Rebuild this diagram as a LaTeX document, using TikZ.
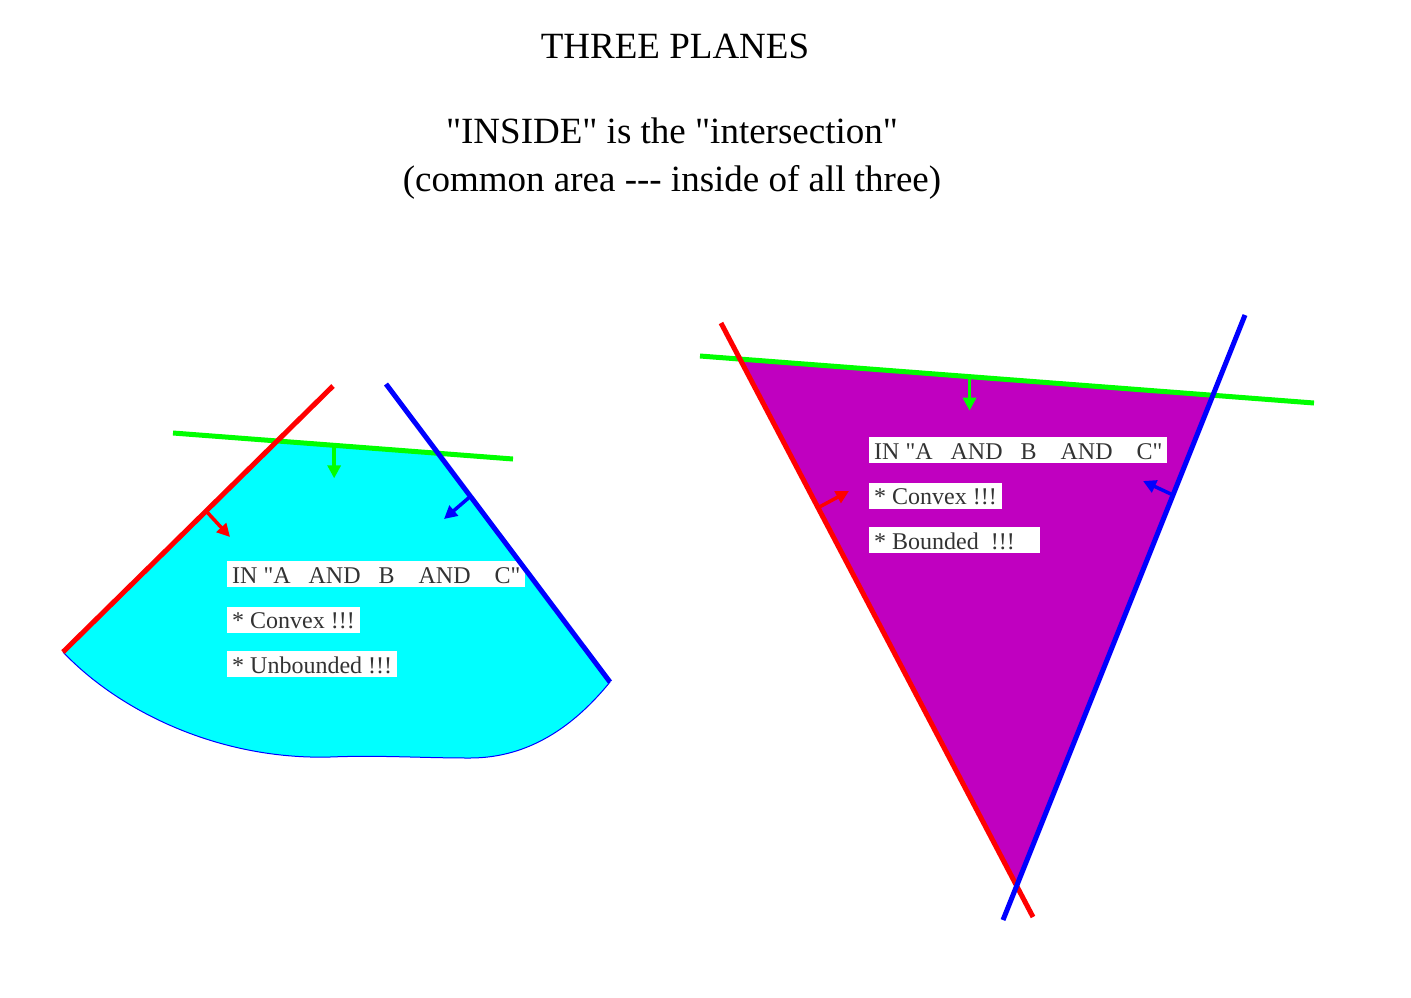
\documentclass[tikz,border=0pt]{standalone}
\usepackage{fontspec}
\newfontfamily\planefont{Liberation Serif}
\usetikzlibrary{arrows.meta,positioning,calc}
\definecolor{insidefill}{RGB}{192,0,192}
\definecolor{outsidefill}{RGB}{0,255,255}
\definecolor{notetext}{RGB}{51,51,51}
\tikzset{
	plane/.style={line width=5pt},
	normal/.style={line width=3.5pt, -{Triangle[length=13pt,width=13pt]}},
	note/.style={fill=white, text=notetext, anchor=north west,
		font=\planefont\fontsize{24}{28}\selectfont,
		inner xsep=5pt, inner ysep=0pt, text height=22pt, text depth=4pt},
	heading/.style={font=\planefont\fontsize{37}{44}\selectfont}
}
\begin{document}
\begin{tikzpicture}[x=1pt, y=-1pt, font=\planefont]
	\useasboundingbox (0,0) rectangle (1411,997);
	%title
	\node[heading] (title) at (675,46) {THREE PLANES};
	\node[heading] (sub1) at (672,131) {"INSIDE" is the "intersection"};
	\node[heading] (sub2) at (672,182) {(common area --- inside of all three)};
	%left planes
	\coordinate (lredA) at (63,652);
	\coordinate (lredB) at (333,386);
	\coordinate (lblueA) at (386,384);
	\coordinate (lblueB) at (610,682);
	\coordinate (lgreenA) at (173,433);
	\coordinate (lgreenB) at (513,459);
	%left region
	\fill[outsidefill] (lredA)
	-- (intersection of lredA--lredB and lgreenA--lgreenB)
	-- (intersection of lgreenA--lgreenB and lblueA--lblueB)
	-- (lblueB) .. controls (575,725) and (530,758) .. (470,758)
	.. controls (420,758) and (380,755) .. (330,757)
	.. controls (220,760) and (120,712) .. (lredA) -- cycle;
	\draw[blue, line width=1pt] (lblueB) .. controls (575,725) and (530,758) .. (470,758)
	.. controls (420,758) and (380,755) .. (330,757)
	.. controls (220,760) and (120,712) .. (lredA);
	%left notes
	\node[note] (lin) at (227,561) {IN "A~~~AND~~~B~~~~AND~~~~C"};
	\node[note, below=19pt of lin.south west, anchor=north west] (lconv) {* Convex !!!};
	\node[note, below=18pt of lconv.south west, anchor=north west] (lunb) {* Unbounded !!!};
	%left lines
	\draw[plane, green] (lgreenA) -- (lgreenB);
	\draw[plane, red] (lredA) -- (lredB);
	\draw[plane, blue] (lblueA) -- (lblueB);
	%left normals
	\coordinate (lgbase) at ($(lgreenA)!0.474!(lgreenB)$);
	\coordinate (lgtip) at ($(lgbase)+(0,33)$);
	\coordinate (lrbase) at ($(lredA)!0.53!(lredB)$);
	\coordinate (lrtip) at (230,537);
	\coordinate (lbbase) at ($(lblueA)!0.377!(lblueB)$);
	\coordinate (lbtip) at (444,519);
	\draw[normal, green] (lgbase) -- (lgtip);
	\draw[normal, red] (lrbase) -- (lrtip);
	\draw[normal, blue] (lbbase) -- (lbtip);
	%right planes
	\coordinate (rredA) at (721,323);
	\coordinate (rredB) at (1033,917);
	\coordinate (rblueA) at (1245,315);
	\coordinate (rblueB) at (1003,920);
	\coordinate (rgreenA) at (700,356);
	\coordinate (rgreenB) at (1314,403);
	%right region
	\fill[insidefill] (intersection of rredA--rredB and rgreenA--rgreenB)
	-- (intersection of rgreenA--rgreenB and rblueA--rblueB)
	-- (intersection of rblueA--rblueB and rredA--rredB) -- cycle;
	%right notes
	\node[note] (rin) at (869,437) {IN "A~~~AND~~~B~~~~AND~~~~C"};
	\node[note, below=19pt of rin.south west, anchor=north west] (rconv) {* Convex !!!};
	\node[note, below=18pt of rconv.south west, anchor=north west] (rbnd) {* Bounded~~!!!\rule{20pt}{0pt}};
	%right lines
	\draw[plane, green] (rgreenA) -- (rgreenB);
	\draw[plane, red] (rredA) -- (rredB);
	\draw[plane, blue] (rblueA) -- (rblueB);
	%right normals
	\coordinate (rgbase) at ($(rgreenA)!0.439!(rgreenB)$);
	\coordinate (rgtip) at ($(rgbase)+(0,34)$);
	\coordinate (rrbase) at ($(rredA)!0.311!(rredB)$);
	\coordinate (rrtip) at (849,491);
	\coordinate (rbbase) at ($(rblueA)!0.2975!(rblueB)$);
	\coordinate (rbtip) at (1143,481);
	\draw[normal, green] (rgbase) -- (rgtip);
	\draw[normal, red] (rrbase) -- (rrtip);
	\draw[normal, blue] (rbbase) -- (rbtip);
\end{tikzpicture}
\end{document}
